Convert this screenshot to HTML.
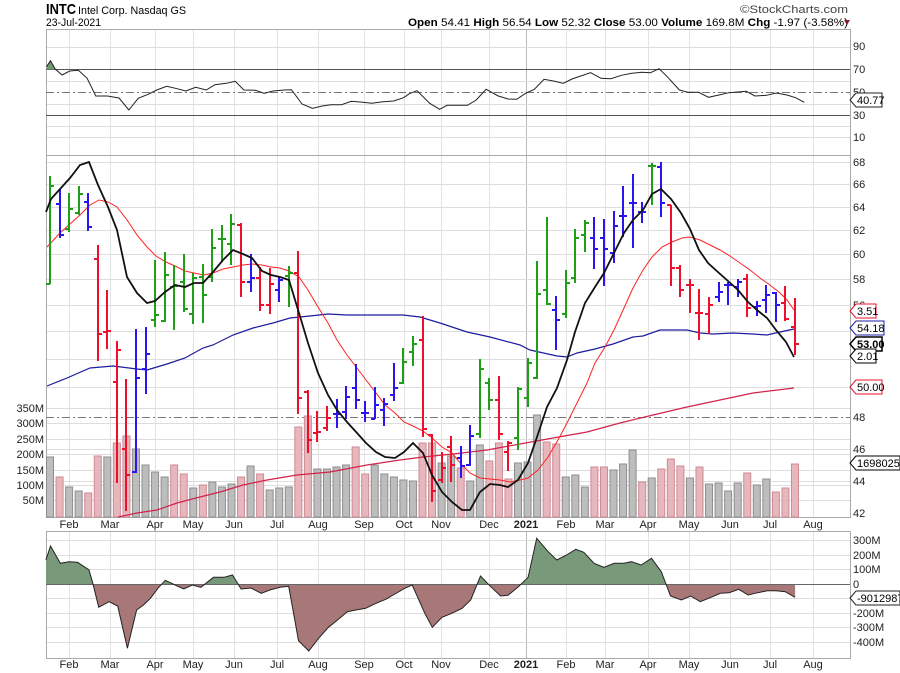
<!DOCTYPE html>
<html><head><meta charset="utf-8"><style>
html,body{margin:0;padding:0;background:#fff;}
svg{display:block;font-family:"Liberation Sans",sans-serif;}
</style></head><body>
<svg id="s" width="900" height="673" viewBox="0 0 900 673" xmlns="http://www.w3.org/2000/svg">
<rect width="900" height="673" fill="#fff"/>
<!-- header -->
<text x="46" y="14" font-size="15" font-weight="bold" textLength="30" lengthAdjust="spacingAndGlyphs">INTC</text>
<text x="78" y="14" font-size="11" textLength="108" lengthAdjust="spacingAndGlyphs">Intel Corp. Nasdaq GS</text>
<text x="46" y="26" font-size="11" textLength="55" lengthAdjust="spacingAndGlyphs">23-Jul-2021</text>
<text x="848" y="13" font-size="11" text-anchor="end" fill="#444" textLength="108" lengthAdjust="spacingAndGlyphs">©StockCharts.com</text>
<text x="408" y="26" font-size="11" textLength="440" lengthAdjust="spacingAndGlyphs"><tspan font-weight="bold">Open</tspan> 54.41 <tspan font-weight="bold">High</tspan> 56.54 <tspan font-weight="bold">Low</tspan> 52.32 <tspan font-weight="bold">Close</tspan> 53.00 <tspan font-weight="bold">Volume</tspan> 169.8M <tspan font-weight="bold">Chg</tspan> -1.97 (-3.58%)</text>
<polygon points="844,20 850,20 847,25" fill="#8b1a2a"/>

<g id="grid" stroke="#ddd" stroke-width="1"></g>

<!-- RSI panel -->
<rect x="46.5" y="29.5" width="804" height="126" fill="none" stroke="#aaa"/>
<line x1="46" y1="69.5" x2="850" y2="69.5" stroke="#555"/>
<line x1="46" y1="115.5" x2="850" y2="115.5" stroke="#555"/>
<line x1="46" y1="92.5" x2="850" y2="92.5" stroke="#777" stroke-dasharray="8,3,2,3"/>
<polygon id="rsig" fill="#6f9a6f" stroke="none"/>
<polyline id="rsi" fill="none" stroke="#222" stroke-width="1"/>
<g font-size="11" fill="#222">
<text x="853" y="50">90</text><text x="853" y="73">70</text><text x="853" y="96">50</text><text x="853" y="119">30</text><text x="853" y="141">10</text>
</g>
<polygon points="850,100 856,93 882,93 882,107 856,107" fill="#fff" stroke="#222"/>
<text x="857" y="104" font-size="11">40.77</text>

<!-- main panel -->
<rect x="46.5" y="155.5" width="804" height="362" fill="none" stroke="#aaa"/>
<line x1="46" y1="417.5" x2="850" y2="417.5" stroke="#777" stroke-dasharray="8,3,2,3"/>
<g id="vol"></g>
<polyline id="ma200" fill="none" stroke="#d2234a" stroke-width="1.2"/>
<polyline id="ma50" fill="none" stroke="#1c1ca0" stroke-width="1.2"/>
<polyline id="ma20" fill="none" stroke="#f22" stroke-width="1"/>
<g id="bars"></g>
<polyline id="mab" fill="none" stroke="#111" stroke-width="1.8"/>
<g font-size="11" fill="#222">
<text x="853" y="166">68</text><text x="853" y="188">66</text><text x="853" y="211">64</text><text x="853" y="234">62</text><text x="853" y="258">60</text><text x="853" y="283">58</text><text x="853" y="309">56</text>
<text x="853" y="421">48</text><text x="853" y="453">46</text><text x="853" y="485">44</text><text x="853" y="517">42</text>
</g>
<g font-size="11" fill="#222" text-anchor="end">
<text x="44" y="412">350M</text><text x="44" y="427">300M</text><text x="44" y="443">250M</text><text x="44" y="458">200M</text><text x="44" y="474">150M</text><text x="44" y="489">100M</text><text x="44" y="504">50M</text>
</g>
<g font-size="11">
<polygon points="850,311 856,304 876,304 876,318 856,318" fill="#fff" stroke="#e8102a"/><text x="857" y="315">3.51</text>
<polygon points="850,328 856,321 884,321 884,335 856,335" fill="#fff" stroke="#1c1ca0"/><text x="857" y="332">54.18</text>
<polygon points="850,344 856,337 882,337 882,351 856,351" fill="#fff" stroke="#000" stroke-width="1.5"/><text x="857" y="348" font-weight="bold">53.00</text>
<polygon points="850,356 856,349 876,349 876,363 856,363" fill="#fff" stroke="#000"/><text x="857" y="360">2.01</text>
<polygon points="850,387 856,380 882,380 882,394 856,394" fill="#fff" stroke="#e8102a"/><text x="857" y="391">50.00</text>
<polygon points="850,463 856,456 900,456 900,470 856,470" fill="#fff" stroke="#000"/><text x="857" y="467">16980254</text>
</g>

<!-- month labels -->
<g font-size="11" fill="#222" text-anchor="middle">
<text x="69" y="528">Feb</text><text x="110" y="528">Mar</text><text x="155" y="528">Apr</text><text x="193" y="528">May</text><text x="234" y="528">Jun</text><text x="277" y="528">Jul</text><text x="318" y="528">Aug</text><text x="364" y="528">Sep</text><text x="404" y="528">Oct</text><text x="441" y="528">Nov</text><text x="489" y="528">Dec</text><text x="526" y="528" font-weight="bold">2021</text><text x="566" y="528">Feb</text><text x="605" y="528">Mar</text><text x="648" y="528">Apr</text><text x="689" y="528">May</text><text x="730" y="528">Jun</text><text x="770" y="528">Jul</text><text x="813" y="528">Aug</text>
</g>
<g font-size="11" fill="#222" text-anchor="middle">
<text x="69" y="668">Feb</text><text x="110" y="668">Mar</text><text x="155" y="668">Apr</text><text x="193" y="668">May</text><text x="234" y="668">Jun</text><text x="277" y="668">Jul</text><text x="318" y="668">Aug</text><text x="364" y="668">Sep</text><text x="404" y="668">Oct</text><text x="441" y="668">Nov</text><text x="489" y="668">Dec</text><text x="526" y="668" font-weight="bold">2021</text><text x="566" y="668">Feb</text><text x="605" y="668">Mar</text><text x="648" y="668">Apr</text><text x="689" y="668">May</text><text x="730" y="668">Jun</text><text x="770" y="668">Jul</text><text x="813" y="668">Aug</text>
</g>

<!-- bottom panel -->
<rect x="46.5" y="531.5" width="804" height="127" fill="none" stroke="#aaa"/>
<defs>
<clipPath id="cu"><rect x="46" y="531" width="804" height="53"/></clipPath>
<clipPath id="cd"><rect x="46" y="584" width="804" height="75"/></clipPath>
</defs>
<polygon id="fu" fill="#78997a" clip-path="url(#cu)"/>
<polygon id="fd" fill="#a87878" clip-path="url(#cd)"/>
<line x1="46" y1="584.5" x2="850" y2="584.5" stroke="#666"/>
<polyline id="ad" fill="none" stroke="#222" stroke-width="1"/>
<g font-size="11" fill="#222">
<text x="853" y="544">300M</text><text x="853" y="559">200M</text><text x="853" y="573">100M</text><text x="853" y="588">0</text><text x="853" y="617">-200M</text><text x="853" y="631">-300M</text><text x="853" y="646">-400M</text>
</g>
<polygon points="850,598 856,591 900,591 900,605 856,605" fill="#fff" stroke="#222"/>
<text x="857" y="602" font-size="11">-90129873</text>
</svg>
<script>
var NS="http://www.w3.org/2000/svg";
function el(p,t,a){var e=document.createElementNS(NS,t);for(var k in a)e.setAttribute(k,a[k]);p.appendChild(e);return e;}
var g=document.getElementById('grid');
var mx=[69,110,155,193,234,277,318,364,404,441,489,526,566,605,648,689,730,770,813];
mx.forEach(function(x){[[30,155],[155,518],[531,658]].forEach(function(r){el(g,'line',{x1:x+.5,x2:x+.5,y1:r[0],y2:r[1],stroke:x==526?'#bbb':'#e2e2e2'});});});
[47,81,104,126,137,162,184,207,230,254,279,305,331,359,387,449,481,408,423,439,454,470,485,500].forEach(function(y){el(g,'line',{x1:46,x2:850,y1:y+.5,y2:y+.5});});
[540,555,569,598,613,627,642].forEach(function(y){el(g,'line',{x1:46,x2:850,y1:y+.5,y2:y+.5});});
// OHLC: color,high,low,open,close
var B=[['g',176,284,284,186],['b',189,238,204,235],['g',193,232,229,209],['g',186,215,213,194],['b',193,231,202,227],['r',245,361,259,334],['r',290,349,332,331],['r',341,483,382,350],['r',379,511,449,475],['b',329,473,472,378],['b',327,394,369,354],['g',260,327,320,315],['g',252,322,321,275],['g',265,330,287,286],['g',254,312,282,309],['g',273,324,314,278],['g',264,323,277,295],['g',229,282,277,248],['g',225,262,239,239],['g',214,265,244,224],['r',223,297,225,282],['b',254,292,282,278],['r',267,311,278,305],['r',268,314,305,284],['b',277,302,290,280],['g',266,307,276,273],['r',251,414,273,398],['r',390,453,392,440],['r',411,442,433,432],['r',406,431,428,418],['b',399,428,414,414],['b',386,419,412,397],['b',364,409,388,400],['b',401,422,413,413],['b',387,419,419,405],['b',398,426,410,404],['b',363,401,395,388],['g',348,384,383,362],['g',336,366,352,344],['r',316,437,340,429],['r',434,502,435,491],['r',452,483,480,468],['r',436,482,447,465],['b',446,478,458,466],['b',425,466,465,436],['g',359,438,434,369],['g',378,410,383,400],['r',376,440,400,434],['r',441,471,452,443],['g',387,450,438,389],['g',358,407,398,363],['g',261,379,378,294],['g',217,305,290,304],['b',296,350,310,320],['g',270,318,314,283],['g',229,283,278,238],['g',220,252,235,223],['b',217,269,238,249],['b',219,286,238,249],['b',211,263,253,226],['b',186,237,216,216],['b',174,248,203,203],['b',202,223,212,212],['g',163,205,166,166],['b',162,217,167,203],['r',205,286,205,268],['r',265,297,268,290],['r',279,313,285,285],['r',289,340,313,313],['r',297,334,314,305],['b',282,302,297,292],['b',282,305,285,285],['b',279,297,287,282],['r',274,317,279,308],['b',301,316,307,306],['b',285,313,300,295],['b',292,322,293,305],['r',286,321,303,319],['r',298,355,327,344]];
var V=[['g',457],['p',477],['g',487],['g',491],['p',493],['p',456],['g',457],['p',443],['p',436],['g',449],['g',465],['g',472],['g',477],['p',465],['p',474],['g',488],['p',485],['g',482],['g',487],['g',484],['p',477],['g',466],['p',474],['g',490],['g',488],['g',487],['p',427],['p',416],['g',469],['g',469],['g',467],['g',465],['p',447],['p',474],['g',465],['g',474],['g',477],['g',480],['g',481],['p',443],['p',443],['g',463],['g',456],['p',468],['g',481],['g',445],['p',461],['p',443],['p',479],['g',463],['g',462],['g',415],['p',442],['p',444],['g',477],['g',475],['g',487],['p',467],['p',467],['g',470],['g',464],['g',450],['p',482],['g',478],['p',469],['p',459],['p',466],['g',478],['p',467],['g',484],['g',483],['g',491],['g',483],['p',473],['g',485],['g',479],['p',492],['p',488],['p',464]];
var col={g:'#1f9e17',b:'#2a14f0',r:'#ee0f2c'};
var bg=document.getElementById('bars'),vg=document.getElementById('vol');
var sp=(795-50)/78;
V.forEach(function(v,i){var x=50+i*sp;el(vg,'rect',{x:x-3.5,y:v[1],width:7,height:517-v[1],fill:v[0]=='g'?'#bdbdbd':'#e6b8bd',stroke:v[0]=='g'?'#8e8e8e':'#d08a94','stroke-width':1});});
B.forEach(function(b,i){var x=Math.round(50+i*sp),c=col[b[0]];
el(bg,'line',{x1:x,x2:x,y1:b[1],y2:b[2],stroke:c,'stroke-width':2});
el(bg,'line',{x1:x-4,x2:x,y1:b[3],y2:b[3],stroke:c,'stroke-width':2});
el(bg,'line',{x1:x,x2:x+4,y1:b[4],y2:b[4],stroke:c,'stroke-width':2});});
function P(id,a){document.getElementById(id).setAttribute('points',a.map(function(p){return p.join(',')}).join(' '));}
P('mab',[[46,212],[51,199],[70,178],[80,165],[89,162],[98,185],[108,207],[117,230],[127,277],[137,293],[147,303],[155,301],[165,292],[175,285],[185,287],[194,283],[203,283],[213,272],[223,260],[233,250],[243,254],[252,258],[262,271],[271,275],[280,277],[289,280],[299,313],[308,343],[318,373],[328,395],[337,410],[347,422],[357,433],[366,443],[376,452],[385,457],[395,458],[404,452],[413,443],[423,453],[432,475],[442,492],[452,502],[462,510],[470,510],[480,492],[490,484],[500,485],[508,487],[518,480],[528,463],[537,437],[547,407],[557,388],[567,360],[575,332],[585,303],[595,287],[604,273],[614,253],[624,233],[633,220],[643,210],[652,194],[661,189],[671,199],[681,213],[690,229],[699,250],[708,263],[719,273],[728,281],[738,290],[748,302],[757,310],[767,318],[776,330],[786,342],[794,357]]);
P('ma20',[[47,247],[60,233],[80,215],[90,205],[99,200],[108,202],[117,207],[127,220],[137,235],[147,247],[156,256],[166,262],[175,266],[185,271],[194,273],[204,275],[213,273],[223,269],[233,267],[243,265],[252,264],[262,265],[271,267],[280,268],[289,271],[299,277],[308,290],[318,307],[328,323],[337,340],[347,355],[357,368],[366,380],[376,393],[385,405],[395,413],[404,422],[413,426],[423,431],[432,438],[442,447],[452,453],[462,465],[470,473],[480,478],[500,480],[510,482],[520,480],[528,478],[538,470],[548,457],[558,440],[567,423],[577,403],[587,383],[595,363],[605,347],[614,330],[624,308],[633,288],[643,270],[652,257],[662,247],[672,242],[682,238],[690,237],[700,240],[710,245],[720,250],[730,256],[740,263],[750,270],[760,278],[770,285],[780,293],[787,300],[794,310]]);
P('ma50',[[47,386],[67,378],[90,368],[113,366],[137,369],[147,370],[167,364],[185,358],[203,348],[213,345],[233,335],[253,328],[273,323],[290,318],[310,316],[328,314],[347,315],[367,315],[403,315],[420,317],[440,323],[467,332],[490,337],[520,345],[530,350],[557,356],[567,357],[577,353],[595,349],[613,344],[633,337],[643,336],[660,330],[673,330],[687,330],[700,333],[713,334],[733,333],[753,334],[767,335],[780,332],[794,329]]);
P('ma200',[[118,517],[137,513],[157,510],[177,503],[200,497],[220,492],[243,485],[267,480],[297,475],[330,472],[367,465],[400,460],[423,457],[453,454],[487,450],[520,444],[553,438],[587,432],[620,423],[653,415],[687,407],[720,400],[753,393],[794,388]]);
var R=[[80,200],[87,182],[95,207],[107,225],[120,213],[135,211],[150,235],[165,288],[185,288],[205,294],[222,330],[238,295],[255,283],[270,270],[287,259],[305,266],[320,273],[337,262],[355,270],[370,254],[390,250],[405,244],[420,270],[440,271],[455,280],[470,273],[490,270],[502,269],[520,312],[538,325],[555,318],[570,314],[588,314],[605,304],[625,307],[640,310],[660,305],[678,303],[695,293],[705,281],[718,272],[740,310],[757,328],[770,316],[790,316],[805,316],[820,300],[837,268],[858,288],[875,297],[890,298],[905,280],[920,268],[937,238],[955,244],[970,250],[985,237],[1000,228],[1017,218],[1035,235],[1052,236],[1070,226],[1088,220],[1105,217],[1120,218],[1135,206],[1150,232],[1170,270],[1185,277],[1203,277],[1220,292],[1240,284],[1255,278],[1270,276],[1285,274],[1300,288],[1320,286],[1337,279],[1355,285],[1370,293],[1385,307]].map(function(p){return [+(p[0]/1.722).toFixed(1),+(p[1]/3).toFixed(1)];});
P('rsi',R);
P('rsig',[[46.5,69.5],[46.5,67],[50.5,60.7],[55,69.5]]);
var A=[[80,120],[88,78],[105,130],[120,125],[135,127],[155,150],[162,192],[172,262],[190,245],[205,258],[222,385],[238,270],[250,255],[262,235],[275,205],[288,181],[305,195],[320,207],[335,195],[350,202],[372,172],[390,172],[405,165],[420,207],[437,204],[455,220],[470,210],[488,202],[503,199],[520,362],[538,393],[555,355],[572,322],[588,300],[605,275],[620,270],[637,265],[655,250],[672,238],[688,222],[705,205],[718,195],[740,280],[753,322],[770,292],[787,280],[805,265],[820,240],[837,168],[855,200],[872,228],[885,226],[903,200],[920,172],[935,55],[955,95],[970,120],[987,105],[1003,88],[1017,97],[1035,130],[1052,142],[1070,130],[1087,130],[1100,125],[1117,135],[1135,115],[1152,155],[1168,228],[1187,240],[1203,228],[1220,245],[1237,233],[1255,220],[1270,218],[1287,208],[1303,225],[1320,218],[1337,212],[1352,212],[1368,215],[1385,232]].map(function(p){return [+(p[0]/1.742).toFixed(1),+(520+p[1]/3).toFixed(1)];});
P('ad',A);
var F=[[A[0][0],584]].concat(A).concat([[A[A.length-1][0],584]]);
P('fu',F);P('fd',F);
</script>
</body></html>
